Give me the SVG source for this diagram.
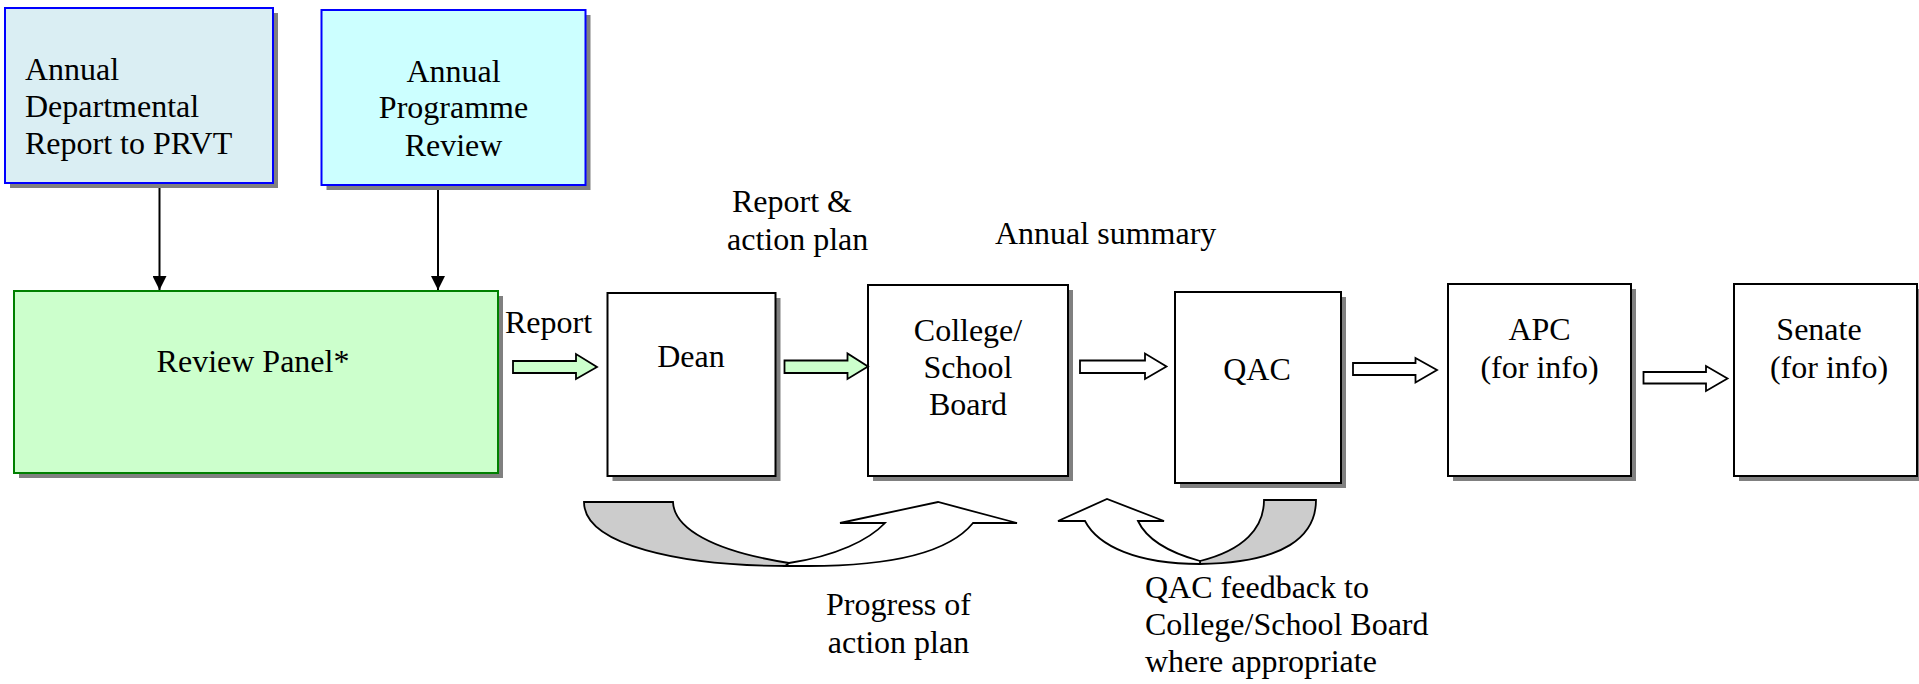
<svg xmlns="http://www.w3.org/2000/svg" width="1919" height="684" viewBox="0 0 1919 684">
  <style>
    text { font-family: "Liberation Serif", "Times New Roman", serif; font-size: 32px; fill: #000; }
    .mid { text-anchor: middle; }
    .shadow { fill: #808080; }
    .box { fill: #fff; stroke: #000; stroke-width: 2; }
    .blue { stroke: #0000ff; stroke-width: 2; }
    .panel { fill: #ccffcc; stroke: #008000; stroke-width: 2; }
    .line { stroke: #000; stroke-width: 2; fill: none; }
    .block { stroke: #000; stroke-width: 1.8; stroke-linejoin: miter; }
    .green { fill: #ccffcc; }
    .white { fill: #fff; }
    .curve { stroke: #000; stroke-width: 1.8; stroke-linejoin: miter; }
  </style>
  <defs>
    <marker id="head" markerWidth="14" markerHeight="14" refX="14" refY="7" orient="auto" markerUnits="userSpaceOnUse">
      <path d="M0,0 L14,7 L0,14 Z" fill="#000"/>
    </marker>
  </defs>

  <rect width="1919" height="684" fill="#fff"/>

  <!-- inputs -->
  <g id="dept-report">
    <rect class="shadow" x="10" y="13" width="268" height="175"/>
    <rect class="blue" x="5" y="8" width="268" height="175" fill="#daeef3"/>
    <text x="25" y="80">Annual</text>
    <text x="25" y="117">Departmental</text>
    <text x="25" y="154">Report to PRVT</text>
  </g>
  <g id="programme-review">
    <rect class="shadow" x="326.5" y="15" width="264" height="175"/>
    <rect class="blue" x="321.5" y="10" width="264" height="175" fill="#ccffff"/>
    <text class="mid" x="453.5" y="82">Annual</text>
    <text class="mid" x="453.5" y="118">Programme</text>
    <text class="mid" x="453.5" y="156">Review</text>
  </g>

  <g id="review-panel">
    <rect class="shadow" x="19" y="296" width="484" height="182"/>
    <rect class="panel" x="14" y="291" width="484" height="182"/>
    <text class="mid" x="253" y="372">Review Panel*</text>
  </g>

  <!-- committee chain -->
  <g id="dean">
    <rect class="shadow" x="612.5" y="298" width="168" height="183"/>
    <rect class="box" x="607.5" y="293" width="168" height="183"/>
    <text class="mid" x="691" y="367">Dean</text>
  </g>
  <g id="college-board">
    <rect class="shadow" x="873" y="290" width="200" height="191"/>
    <rect class="box" x="868" y="285" width="200" height="191"/>
    <text class="mid" x="968" y="341">College/</text>
    <text class="mid" x="968" y="378">School</text>
    <text class="mid" x="968" y="415">Board</text>
  </g>
  <g id="qac">
    <rect class="shadow" x="1180" y="297" width="166" height="191"/>
    <rect class="box" x="1175" y="292" width="166" height="191"/>
    <text class="mid" x="1257" y="380">QAC</text>
  </g>
  <g id="apc">
    <rect class="shadow" x="1453" y="289" width="183" height="192"/>
    <rect class="box" x="1448" y="284" width="183" height="192"/>
    <text class="mid" x="1539.5" y="340">APC</text>
    <text class="mid" x="1539.5" y="378">(for info)</text>
  </g>
  <g id="senate">
    <rect class="shadow" x="1739" y="289" width="184" height="192"/>
    <rect class="box" x="1734" y="284" width="183" height="192"/>
    <text class="mid" x="1819" y="340">Senate</text>
    <text class="mid" x="1829" y="378">(for info)</text>
  </g>

  <!-- connectors -->
  <g id="connectors">
    <line class="line" x1="159.5" y1="188" x2="159.5" y2="290" marker-end="url(#head)"/>
    <line class="line" x1="438" y1="190" x2="438" y2="290" marker-end="url(#head)"/>

    <!-- block arrows along the chain -->
    <path class="block green" d="M513,361 L576,361 L576,354 L597,367 L576,379 L576,373 L513,373 Z"/>
    <path class="block green" d="M784.5,360.5 L847.5,360.5 L847.5,353.5 L868,366.5 L847.5,379 L847.5,373 L784.5,373 Z"/>
    <path class="block white" d="M1080,360.5 L1145,360.5 L1145,353.5 L1166.5,366.5 L1145,379 L1145,373 L1080,373 Z"/>
    <path class="block white" d="M1353,363 L1415.5,363 L1415.5,358 L1437,370 L1415.5,382.5 L1415.5,375 L1353,375 Z"/>
    <path class="block white" d="M1643.5,372 L1706,372 L1706,366 L1727.5,378.5 L1706,391 L1706,383.5 L1643.5,383.5 Z"/>

    <!-- curved return arrow: progress of action plan -->
    <path class="curve" fill="#cccccc" d="M584,502 L673,502 C674,528 712,551 789,563 L789,566 C680,566 584,545 584,502 Z"/>
    <path class="curve" fill="#fff" d="M789,563 C836,556 869,540 885,523 L840,523 L938,502 L1017,523 L973,523 C951,550 898,566 808,566 L785,566 Z"/>

    <!-- curved return arrow: QAC feedback -->
    <path class="curve" fill="#cccccc" d="M1264,500 L1316,500 C1316,536 1285,563 1200,564 L1200,561 C1244,550 1264,528 1264,500 Z"/>
    <path class="curve" fill="#fff" d="M1200,561 C1167,552 1146,538 1138,521 L1164,521 L1107,499 L1058,521 L1085,521 C1098,546 1137,564 1200,564 Z"/>
  </g>

  <!-- flow labels -->
  <text x="505" y="333">Report</text>
  <text x="732" y="212">Report &amp;</text>
  <text x="727" y="250">action plan</text>
  <text x="995" y="244">Annual summary</text>
  <text class="mid" x="898.5" y="615">Progress of</text>
  <text class="mid" x="898.5" y="653">action plan</text>
  <text x="1145" y="598">QAC feedback to</text>
  <text x="1145" y="635">College/School Board</text>
  <text x="1145" y="672">where appropriate</text>
</svg>
